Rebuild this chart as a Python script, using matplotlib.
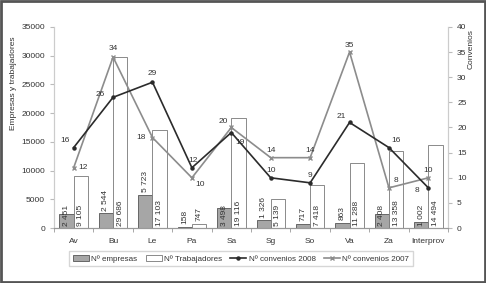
import numpy as np
import matplotlib.pyplot as plt
from matplotlib.patches import Rectangle

# Data
categories = ['Av', 'Bu', 'Le', 'Pa', 'Sa', 'Sg', 'So', 'Va', 'Za', 'Interprov']
empresas = [2451, 2544, 5723, 158, 3498, 1326, 717, 863, 2408, 1002]
trabajadores = [9105, 29686, 17103, 747, 19116, 5139, 7418, 11288, 13358, 14494]
conv_2008 = [16, 26, 29, 12, 19, 10, 9, 21, 16, 8]
conv_2007 = [12, 34, 18, 10, 20, 14, 14, 35, 8, 10]

def fmt(v):
    # thousands separated by a space, as in the original
    return f"{v:,}".replace(",", " ")

plt.rcParams['font.family'] = 'Liberation Sans'
txt = '#333333'
fs = 6

fig = plt.figure(figsize=(4.86, 2.83), dpi=100)
ax = fig.add_axes([0.111, 0.194, 0.811, 0.711])
ax2 = ax.twinx()

x = np.arange(len(categories))
w = 0.36

b1 = ax.bar(x - w / 2, empresas, w, color='#a6a6a6', edgecolor='#555555', linewidth=0.6,
            label='Nº empresas', zorder=2)
b2 = ax.bar(x + w / 2, trabajadores, w, color='white', edgecolor='#777777', linewidth=0.6,
            label='Nº Trabajadores', zorder=2)

# bar labels, rotated like the Excel original
inside_emp = {'Av', 'Sa', 'Za', 'Interprov'}
for i, c in enumerate(categories):
    if c in inside_emp:
        ax.text(x[i] - w / 2, 300, fmt(empresas[i]), rotation=90, ha='center', va='bottom',
                fontsize=fs, color=txt, zorder=5)
    else:
        ax.text(x[i] - w / 2, empresas[i] + 500, fmt(empresas[i]), rotation=90, ha='center',
                va='bottom', fontsize=fs, color=txt, zorder=5)
    if trabajadores[i] > 3000:
        ax.text(x[i] + w / 2, 300, fmt(trabajadores[i]), rotation=90, ha='center', va='bottom',
                fontsize=fs, color=txt, zorder=5)
    else:
        ax.text(x[i] + w / 2, trabajadores[i] + 500, fmt(trabajadores[i]), rotation=90,
                ha='center', va='bottom', fontsize=fs, color=txt, zorder=5)

l1, = ax2.plot(x, conv_2008, color='#2b2b2b', lw=1.2, marker='o', ms=2.2,
               label='Nº convenios 2008', zorder=4)
l2, = ax2.plot(x, conv_2007, color='#8c8c8c', lw=1.2, marker='x', ms=3,
               label='Nº convenios 2007', zorder=3)

# label offsets (points) for the line values
off_2008 = [(-6, 5), (-9, 2), (0, 6), (1, 5), (6, -7), (0, 5), (0, 5), (-6, 4), (5, 5), (-8, -2)]
off_2007 = [(7, 0), (0, 6), (-8, 0), (6, -5), (-6, 4), (0, 5), (0, 5), (0, 5), (5, 5), (0, 5)]
for i in range(len(categories)):
    ax2.annotate(str(conv_2008[i]), (x[i], conv_2008[i]), xytext=off_2008[i],
                 textcoords='offset points', ha='center', va='center', fontsize=fs, color=txt)
    ax2.annotate(str(conv_2007[i]), (x[i], conv_2007[i]), xytext=off_2007[i],
                 textcoords='offset points', ha='center', va='center', fontsize=fs, color=txt)

ax.set_xlim(-0.5, len(categories) - 0.5)
ax.set_ylim(0, 35000)
ax.set_yticks(np.arange(0, 35001, 5000))
ax2.set_ylim(0, 40)
ax2.set_yticks(np.arange(0, 41, 5))
ax.set_xticks(x)
ax.set_xticklabels(categories)
ax.set_xticks(np.arange(-0.5, len(categories), 1), minor=True)
ax.tick_params(axis='x', which='major', length=0, labelsize=fs, colors=txt, pad=7)
ax.tick_params(axis='x', which='minor', length=3, color='#999999')
ax.tick_params(axis='y', labelsize=fs, colors=txt, length=3, color='#bbbbbb')
ax2.tick_params(axis='y', labelsize=fs, colors=txt, length=3, color='#bbbbbb')

for a in (ax, ax2):
    a.spines['top'].set_visible(False)
    a.spines['left'].set_color('#cccccc')
    a.spines['right'].set_color('#cccccc')
    a.spines['bottom'].set_color('#999999')

ax.set_ylabel('Empresas y trabajadores', fontsize=fs, color=txt)
ax2.set_ylabel('Convenios', fontsize=fs, color=txt)
ax2.yaxis.set_label_coords(1.05, 0.89)
ax.yaxis.set_label_coords(-0.095, 0.72)

leg = fig.legend(handles=[b1, b2, l1, l2], loc='center', bbox_to_anchor=(0.496, 0.085), ncol=4,
                 fontsize=5.8, frameon=True, fancybox=False, edgecolor='#cccccc',
                 handlelength=2.0, handletextpad=0.3, columnspacing=1.0, borderpad=0.45)
for t in leg.get_texts():
    t.set_color(txt)

fig.patches.append(Rectangle((0.002, 0.004), 0.996, 0.992, transform=fig.transFigure,
                             fill=False, edgecolor='#555555', linewidth=2))

fig.savefig('out.png', dpi=100)
